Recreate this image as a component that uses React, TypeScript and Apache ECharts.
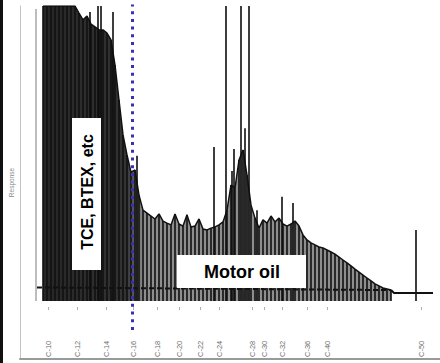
import React, { useEffect, useRef } from 'react';
import * as echarts from 'echarts';

// Carbon-number retention markers (minutes) and their labels
const CARBON_LABELS = ['C-10', 'C-12', 'C-14', 'C-16', 'C-18', 'C-20', 'C-22', 'C-24', 'C-28', 'C-30', 'C-32', 'C-36', 'C-40', 'C-50'];
const CARBON_RT = [2.8, 5.7, 8.6, 11.3, 13.7, 15.9, 18.0, 19.9, 23.2, 24.4, 26.2, 28.7, 30.7, 40.1];

// Chromatogram envelope: [retention time (min), response]
const SIGNAL: [number, number][] = [
  [2.3, 100], [2.7, 100], [3.1, 100], [3.5, 100], [3.9, 100], [4.3, 100], [4.7, 100], [5.1, 100], [5.5, 100],
  [5.9, 97.6], [6.3, 95.3], [6.7, 96.6], [7.1, 93.9], [7.5, 92.9], [7.9, 91.9], [8.3, 91.9], [8.7, 90.8],
  [9.1, 88.5], [9.5, 80.0], [9.9, 68.1], [10.3, 56.3], [10.7, 49.5], [11.1, 43.7], [11.5, 44.4], [11.9, 35.9],
  [12.3, 30.8], [12.7, 29.8], [13.1, 28.8], [13.5, 27.8], [13.9, 29.5], [14.3, 27.1], [14.7, 26.4], [15.1, 25.8],
  [15.5, 29.5], [15.9, 26.1], [16.3, 25.4], [16.7, 29.2], [17.1, 25.1], [17.5, 25.4], [17.9, 27.8], [18.3, 24.4],
  [18.7, 24.1], [19.1, 24.7], [19.5, 25.1], [19.9, 25.8], [20.3, 26.8], [20.7, 30.8], [21.1, 39.3], [21.5, 38.3],
  [21.9, 47.8], [22.3, 51.2], [22.7, 42.7], [23.1, 32.5], [23.5, 28.1], [23.9, 24.7], [24.3, 27.5], [24.7, 26.4],
  [25.1, 28.8], [25.5, 26.8], [25.9, 28.1], [26.3, 26.1], [26.7, 25.4], [27.1, 26.1], [27.5, 27.1], [27.9, 25.4],
  [28.3, 22.4], [28.7, 20.7], [29.1, 19.7], [29.5, 19.0], [29.9, 18.3], [30.3, 18.0], [30.7, 17.3], [31.1, 16.6],
  [31.5, 15.9], [31.9, 14.9], [32.3, 13.9], [32.7, 12.9], [33.1, 11.9], [33.5, 10.8], [33.9, 9.8], [34.3, 8.8],
  [34.7, 7.8], [35.1, 6.8], [35.5, 5.8], [35.9, 5.1], [36.3, 4.4], [36.7, 4.1], [37.1, 3.7],
];

// Individual tall peaks
const SPIKES: [number, number][] = [
  [7.0, 98], [7.8, 100], [8.1, 100], [9.3, 98], [11.7, 49.2], [19.4, 52.2], [20.6, 100], [21.2, 44.1],
  [21.4, 51.5], [22.1, 100], [22.5, 58.6], [22.9, 100], [23.7, 30.8], [26.2, 35.3], [27.3, 33.2], [39.6, 24.1],
];
const SOLVENT_FRONT: [number, number][] = [[1.6, 99]];
const BASELINE: [number, number][] = [[1.7, 4.6], [37.1, 3.7]];
const TAIL: [number, number][] = [[37.1, 3.7], [37.4, 2.7], [41.3, 2.7]];
const BOUNDARY_RT = 11.25;
const BOUNDARY_SPAN = [-9.8, 101];
const REGION_LABELS = ['TCE, BTEX, etc', 'Motor oil'];

const FONT = '"Liberation Sans", Arial, sans-serif';

function vline(color: string, width: number) {
  return (_params: any, api: any) => {
    const x = api.value(0);
    const v = api.value(1);
    const p0 = api.coord([x, 0]);
    const p1 = api.coord([x, v]);
    return {
      type: 'line',
      shape: { x1: p0[0], y1: p0[1], x2: p1[0], y2: p1[1] },
      style: { stroke: color, lineWidth: width },
    };
  };
}

export default function App() {
  const ref = useRef<HTMLDivElement>(null);
  useEffect(() => {
    if (!ref.current) return;
    const chart = echarts.init(ref.current, undefined, { renderer: 'svg' });
    const labelFor = (val: number) => {
      let best = 0;
      for (let i = 1; i < CARBON_RT.length; i++) {
        if (Math.abs(CARBON_RT[i] - val) < Math.abs(CARBON_RT[best] - val)) best = i;
      }
      return CARBON_LABELS[best];
    };
    chart.setOption({
      animation: false,
      grid: { left: 20, right: 0, top: 6, bottom: 4, containLabel: false, outerBoundsMode: 'none' },
      xAxis: [
        {
          type: 'value', min: 0, max: 42,
          axisLine: { show: true, onZero: false, lineStyle: { color: '#9a9a9a', width: 2 } },
          axisTick: { show: false },
          splitLine: { show: false },
          axisLabel: {
            customValues: CARBON_RT, inside: true, rotate: 90, margin: 2,
            fontSize: 7.5, color: '#6e6e6e', fontFamily: FONT, formatter: labelFor,
          },
        },
        {
          type: 'value', min: 0, max: 42, position: 'bottom', offset: -52,
          axisLine: { show: false, onZero: false },
          axisTick: { show: true, customValues: CARBON_RT, length: 3, lineStyle: { color: '#b0b0b0' } },
          axisLabel: { show: false },
          splitLine: { show: false },
        },
      ],
      yAxis: {
        type: 'value', min: -19.66, max: 100,
        axisLine: { show: true, onZero: false, lineStyle: { color: '#c4c4c4' } },
        axisTick: { show: false }, axisLabel: { show: false }, splitLine: { show: false },
        name: 'Response', nameLocation: 'middle', nameRotate: 90, nameGap: 5,
        nameTextStyle: { fontSize: 6.5, color: '#8a8a8a', fontFamily: FONT },
      },
      series: [
        {
          name: 'signal', type: 'line', data: SIGNAL, symbol: 'none', z: 2,
          lineStyle: { color: '#111', width: 1.5 },
          areaStyle: {
            opacity: 1,
            color: new echarts.graphic.LinearGradient(0, 0, 1, 0, [
              { offset: 0, color: '#262626' },
              { offset: 0.24, color: '#333' },
              { offset: 0.29, color: '#8e8e8e' },
              { offset: 1, color: '#8e8e8e' },
            ]),
          },
        },
        { name: 'stripes', type: 'custom', data: SIGNAL, renderItem: vline('#111', 1.6), z: 3, clip: true },
        { name: 'spikes', type: 'custom', data: SPIKES, renderItem: vline('#0d0d0d', 1.6), z: 4, clip: true },
        { name: 'solvent', type: 'custom', data: SOLVENT_FRONT, renderItem: vline('#7a7a7a', 1), z: 4, clip: true },
        {
          name: 'baseline', type: 'line', data: BASELINE, symbol: 'none', z: 5,
          lineStyle: { color: '#111', width: 2, type: [5, 3] },
        },
        {
          name: 'tail', type: 'line', data: TAIL, symbol: 'none', z: 5,
          lineStyle: { color: '#111', width: 2 },
        },
        {
          name: 'boundary', type: 'line', symbol: 'none', z: 10,
          data: [[BOUNDARY_RT, BOUNDARY_SPAN[0]], [BOUNDARY_RT, BOUNDARY_SPAN[1]]],
          lineStyle: { color: '#3333b4', width: 3, type: [3, 4.7], cap: 'butt' },
        },
      ],
      graphic: [
        { type: 'rect', shape: { x: 0, y: 0, width: 3, height: 363 }, style: { fill: '#111' }, z: 100 },
        { type: 'rect', shape: { x: 72, y: 118, width: 29, height: 152 }, style: { fill: '#fff' }, z: 100 },
        {
          type: 'text', x: 87.5, y: 192, rotation: Math.PI / 2, z: 101,
          style: {
            text: REGION_LABELS[0], font: `bold 16px ${FONT}`, fill: '#000',
            align: 'center', verticalAlign: 'middle', textAlign: 'center', textVerticalAlign: 'middle',
          },
        },
        { type: 'rect', shape: { x: 177, y: 255, width: 129, height: 33 }, style: { fill: '#fff' }, z: 100 },
        {
          type: 'text', x: 242, y: 272, z: 101,
          style: {
            text: REGION_LABELS[1], font: `bold 18px ${FONT}`, fill: '#000',
            align: 'center', verticalAlign: 'middle', textAlign: 'center', textVerticalAlign: 'middle',
          },
        },
      ],
    });
    return () => chart.dispose();
  }, []);
  return <div ref={ref} style={{ position: 'fixed', left: 0, top: 0, width: 440, height: 363, background: '#fff' }} />;
}
